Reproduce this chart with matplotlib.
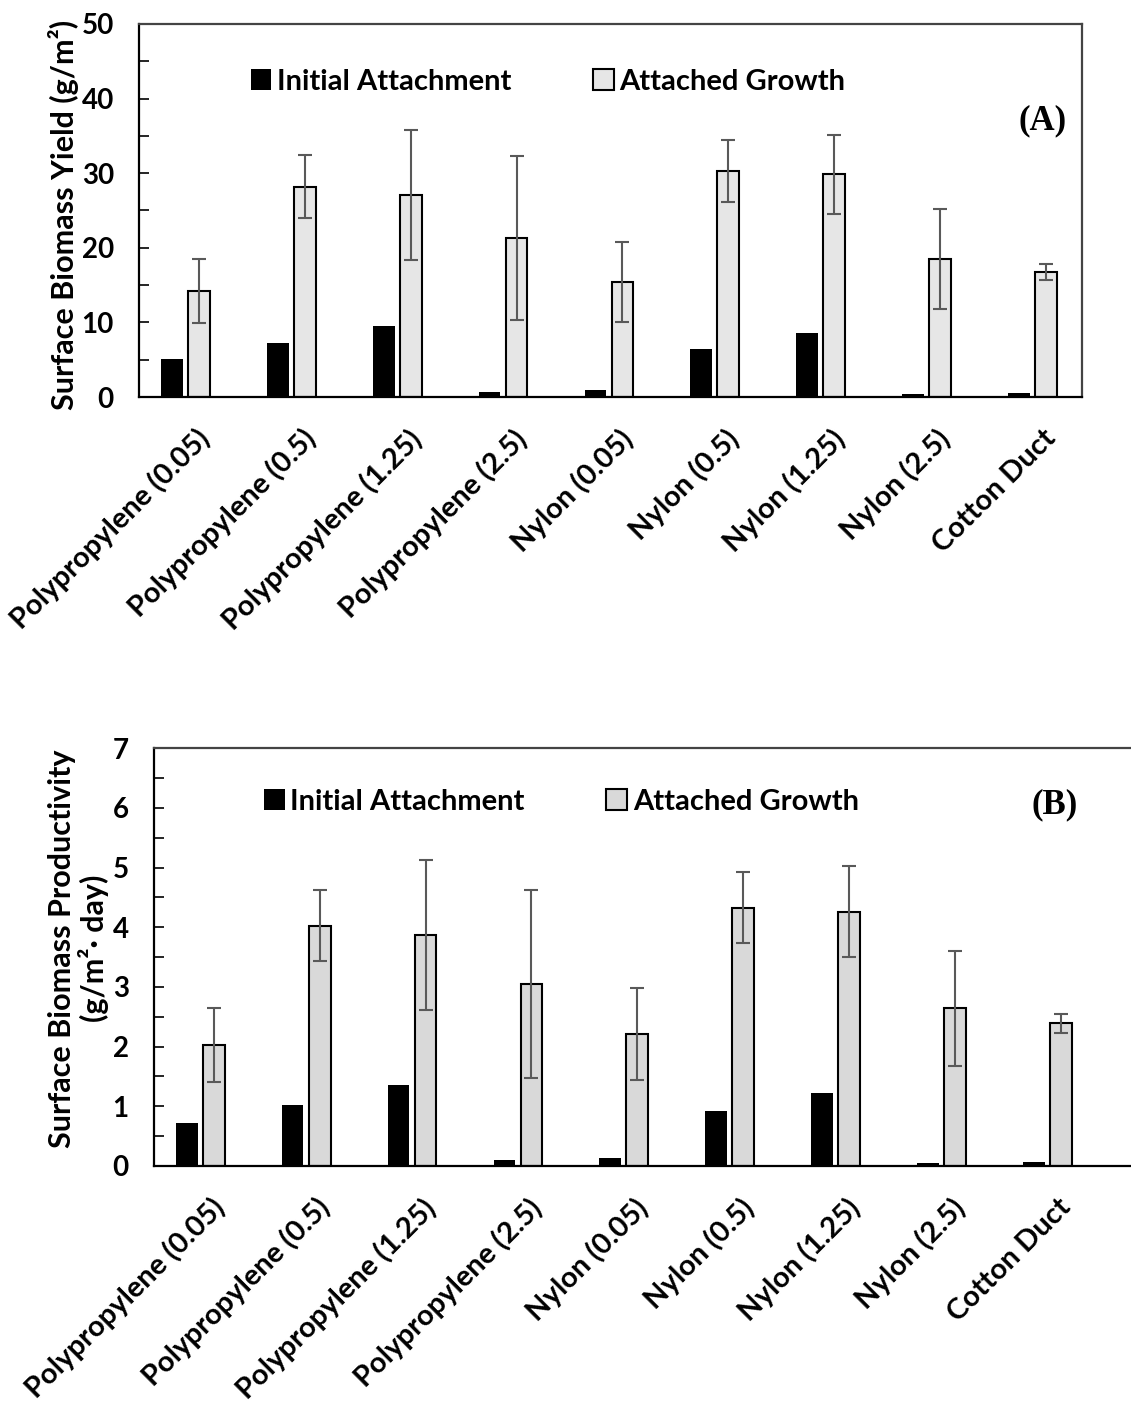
import numpy as np
import matplotlib
matplotlib.use("Agg")
import matplotlib.pyplot as plt
import matplotlib.transforms as mtransforms
from matplotlib import font_manager

# pick the first sans family that really ships a bold face
font_name = 'DejaVu Sans'
for fam in ['Lato', 'Open Sans', 'Roboto', 'Noto Sans', 'Liberation Sans']:
    try:
        path = font_manager.findfont(font_manager.FontProperties(family=fam, weight='bold'),
                                     fallback_to_default=False)
    except Exception:
        continue
    if 'bold' in path.lower():
        font_name = fam
        break

plt.rcParams['font.family'] = [font_name, 'DejaVu Sans']
plt.rcParams['font.weight'] = 'bold'

# === Data ===
materials = ["Polypropylene (0.05)", "Polypropylene (0.5)", "Polypropylene (1.25)",
             "Polypropylene (2.5)", "Nylon (0.05)", "Nylon (0.5)", "Nylon (1.25)",
             "Nylon (2.5)", "Cotton Duct"]

# (A) surface biomass yield, g/m2
yield_initial = [5.05, 7.2, 9.55, 0.7, 1.0, 6.5, 8.6, 0.4, 0.6]
yield_growth = [14.2, 28.2, 27.1, 21.35, 15.4, 30.3, 29.85, 18.5, 16.75]
yield_growth_err = [4.3, 4.2, 8.7, 11.0, 5.4, 4.2, 5.3, 6.7, 1.05]

# (B) surface biomass productivity, g/m2.day
prod_initial = [0.72, 1.02, 1.36, 0.10, 0.13, 0.92, 1.23, 0.055, 0.075]
prod_growth = [2.03, 4.03, 3.87, 3.05, 2.21, 4.33, 4.26, 2.64, 2.39]
prod_growth_err = [0.62, 0.60, 1.25, 1.58, 0.77, 0.60, 0.76, 0.96, 0.16]

x = np.arange(len(materials))
bar_w = 0.205
offset = 0.128

fig = plt.figure(figsize=(11.31, 14.02), dpi=100)


def draw_panel(ax, initial, growth, err, grey, ymax, ystep, ylabel, tag, xmax,
               leg_anchor, tag_pos, ylabel_pos):
    ax.bar(x - offset, initial, width=bar_w, color='black', label='Initial Attachment', zorder=2)
    ax.bar(x + offset, growth, width=bar_w, color=grey, edgecolor='black', linewidth=1.5,
           label='Attached Growth', zorder=2)
    ax.errorbar(x + offset, growth, yerr=err, fmt='none', ecolor='#595959',
                elinewidth=1.5, capsize=5, capthick=1.5, zorder=3)

    ax.set_xlim(-0.44, xmax)
    ax.set_ylim(0, ymax)
    ax.set_yticks(np.arange(0, ymax + ystep / 2, ystep))
    ax.set_yticks(np.arange(ystep / 2, ymax, ystep), minor=True)
    ax.tick_params(axis='y', which='both', direction='in', length=7, width=1.2,
                   labelsize=20, pad=18)
    ax.tick_params(axis='x', length=0, labelsize=21, pad=20)
    ax.set_xticks(x)
    ax.set_xticklabels(materials, rotation=45, ha='right', va='top', rotation_mode='anchor')
    shift = mtransforms.ScaledTranslation(0.10, 0, fig.dpi_scale_trans)
    for lab in ax.get_xticklabels():
        lab.set_transform(lab.get_transform() + shift)

    for side in ['left', 'bottom', 'top', 'right']:
        ax.spines[side].set_linewidth(1.6)
        ax.spines[side].set_color('black')
    ax.spines['top'].set_color('#444444')
    ax.spines['right'].set_color('#444444')

    ax.set_ylabel(ylabel, fontsize=22, fontweight='bold', linespacing=1.1)
    ax.yaxis.set_label_coords(*ylabel_pos)

    ax.legend(loc='center left', bbox_to_anchor=leg_anchor, ncol=2, frameon=False,
              fontsize=21, handlelength=0.7, handleheight=0.7, handletextpad=0.2,
              columnspacing=2.8)
    ax.text(tag_pos[0], tag_pos[1], tag, transform=ax.transAxes, fontsize=25,
            fontweight='bold', family='Liberation Serif', ha='center', va='center')


# === Panel A ===
axA = fig.add_axes([139 / 1131, 1 - 397 / 1402, 943 / 1131, 373 / 1402])
draw_panel(axA, yield_initial, yield_growth, yield_growth_err, '#e6e6e6', 50, 10,
           'Surface Biomass Yield (g/m²)', '(A)', 8.47,
           (0.091, 0.845), (0.958, 0.74), (-0.064, 0.488))

# === Panel B ===
axB = fig.add_axes([153.7 / 1131, 1 - 1166 / 1402, 991 / 1131, 417.7 / 1402])
draw_panel(axB, prod_initial, prod_growth, prod_growth_err, '#d9d9d9', 7, 1,
           'Surface Biomass Productivity\n(g/m²· day)', '(B)', 8.92,
           (0.085, 0.872), (0.909, 0.864), (-0.045, 0.52))

fig.savefig("out.png", dpi=100)
